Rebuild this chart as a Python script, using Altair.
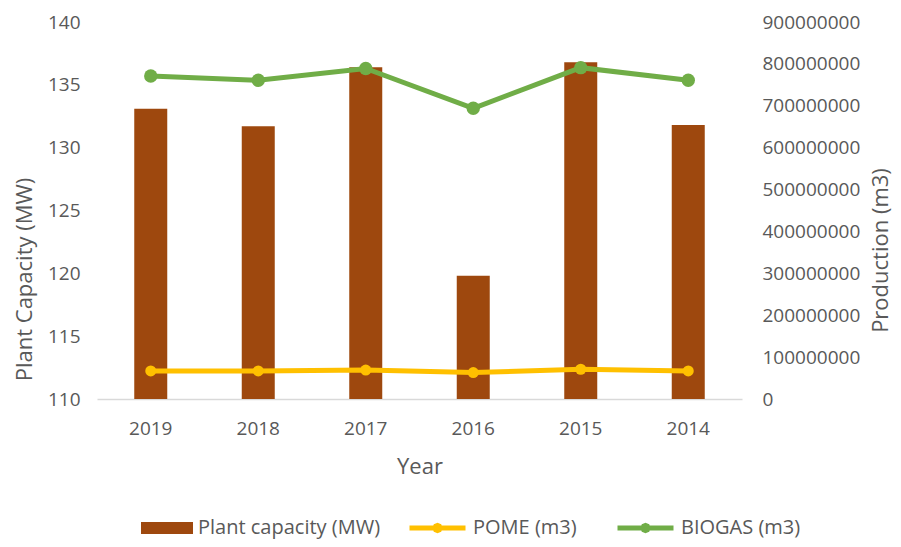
import altair as alt
import pandas as pd

years = ["2019", "2018", "2017", "2016", "2015", "2014"]
capacity = [133.1, 131.7, 136.4, 119.8, 136.8, 131.8]
pome = [67e6, 67e6, 69e6, 63e6, 71e6, 67e6]
biogas = [771e6, 761e6, 789e6, 694e6, 791e6, 761e6]

bar_df = pd.DataFrame({"Year": years, "cap": capacity, "series": "Plant capacity (MW)"})
pome_df = pd.DataFrame({"Year": years, "prod": pome, "series": "POME (m3)"})
biogas_df = pd.DataFrame({"Year": years, "prod": biogas, "series": "BIOGAS (m3)"})
line_df = pd.concat([pome_df, biogas_df])

FONT = "Open Sans"
TXT = "#595959"
BROWN = "#9E480E"
YELLOW = "#FFC000"
GREEN = "#70AD47"

x_enc = alt.X(
    "Year:N", sort=years, title="Year",
    scale=alt.Scale(paddingInner=0, paddingOuter=0),
    axis=alt.Axis(labelFontSize=19, labelColor=TXT, labelFont=FONT, labelPadding=20,
                  ticks=False, domainColor="#D9D9D9", domainWidth=1.5,
                  titleFontSize=22, titleColor=TXT, titleFont=FONT, titleFontWeight="normal",
                  titlePadding=18, labelAngle=0),
)

bars = alt.Chart(bar_df).mark_bar(size=33).encode(
    x=x_enc,
    y=alt.Y("cap:Q", title="Plant Capacity (MW)",
            scale=alt.Scale(domain=[110, 140], zero=False, nice=False),
            axis=alt.Axis(values=[110, 115, 120, 125, 130, 135, 140], grid=False, domain=False,
                          ticks=False, labelFontSize=19, labelColor=TXT, labelFont=FONT,
                          labelPadding=17, titleFontSize=22, titleColor=TXT, titleFont=FONT,
                          titleFontWeight="normal", titleAngle=-90, titleX=-73, titleY=257,
                          titleAlign="center", titleBaseline="middle")),
    y2=alt.datum(110),
    fill=alt.Fill("series:N", scale=alt.Scale(domain=["Plant capacity (MW)"], range=[BROWN]),
                  legend=alt.Legend(orient="none", legendX=44, legendY=480, title=None,
                                    symbolType="M-1,-0.23H1V0.23H-1Z", symbolSize=2704,
                                    labelFontSize=20, labelColor=TXT, labelFont=FONT,
                                    labelOffset=5, symbolStrokeWidth=0, labelLimit=400)),
)

LINE_SYM = ("M-1,0L-0.09,0M0.09,0L1,0M-0.09,0L-0.064,-0.064L0,-0.09L0.064,-0.064"
            "L0.09,0L0.064,0.064L0,0.09L-0.064,0.064Z")

y_right = alt.Y("prod:Q", title="Production (m3)",
                scale=alt.Scale(domain=[0, 900000000], nice=False),
                axis=alt.Axis(orient="right", values=[i * 100000000 for i in range(10)],
                              format="d", grid=False, domain=False, ticks=False,
                              labelFontSize=19, labelColor=TXT, labelFont=FONT, labelPadding=20,
                              titleFontSize=22, titleColor=TXT, titleFont=FONT,
                              titleFontWeight="normal", titleAngle=-90, titleX=138, titleY=228,
                              titleAlign="center", titleBaseline="middle"))

stroke_enc = alt.Stroke("series:N",
                        scale=alt.Scale(domain=["POME (m3)", "BIOGAS (m3)"], range=[YELLOW, GREEN]),
                        legend=alt.Legend(orient="none", legendX=310, legendY=475, title=None,
                                          direction="horizontal", symbolType=LINE_SYM,
                                          symbolSize=3136, symbolStrokeWidth=5,
                                          labelFontSize=20, labelColor=TXT, labelFont=FONT,
                                          labelOffset=5, columnPadding=30, labelLimit=400))

lines = alt.Chart(line_df).mark_line(strokeWidth=5).encode(
    x=alt.X("Year:N", sort=years),
    y=y_right,
    stroke=stroke_enc,
    detail="series:N",
)

pts_pome = alt.Chart(pome_df).mark_circle(size=121, color=YELLOW, opacity=1).encode(
    x=alt.X("Year:N", sort=years),
    y=y_right,
)
pts_bio = alt.Chart(biogas_df).mark_circle(size=180, color=GREEN, opacity=1).encode(
    x=alt.X("Year:N", sort=years),
    y=y_right,
)

right = alt.layer(lines, pts_pome, pts_bio)

chart = alt.layer(bars, right).resolve_scale(y="independent", fill="independent").properties(
    width=645, height=377,
    autosize=alt.AutoSizeParams(type="none"),
    padding={"left": 89, "top": 14, "right": 151, "bottom": 140},
).configure_view(stroke=None)

chart.save("out.html", embed_options={"renderer": "svg", "actions": False})
